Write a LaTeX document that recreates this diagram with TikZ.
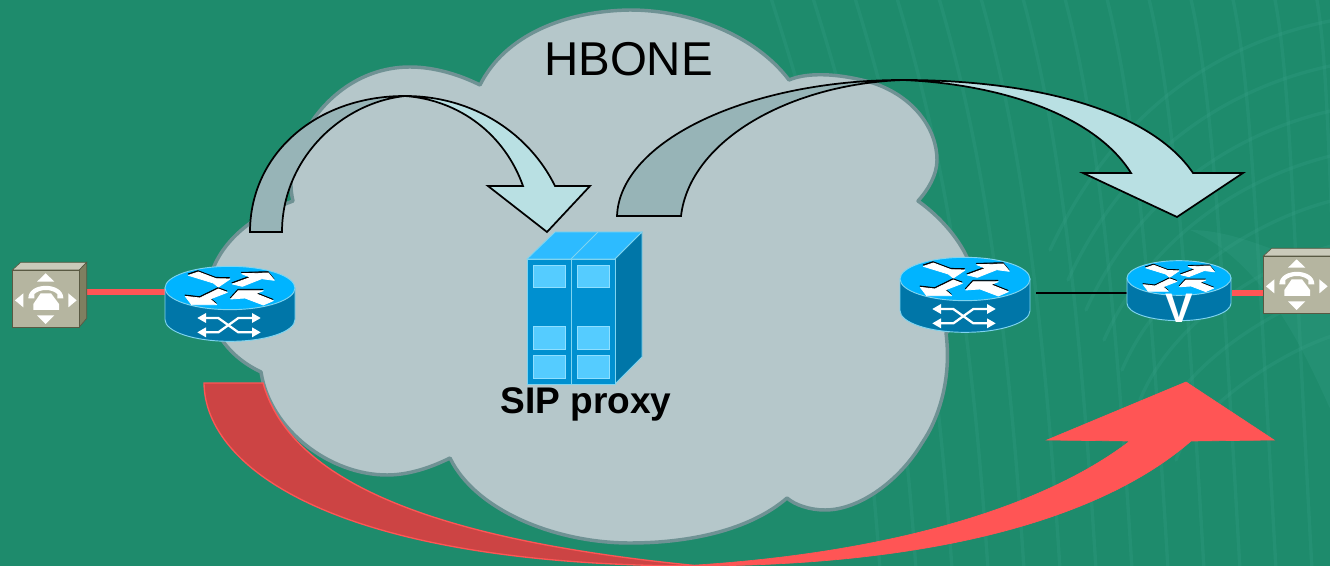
\documentclass[tikz,border=0pt]{standalone}
\usepackage{fontspec}
\setmainfont{Liberation Sans}
\definecolor{bgreen}{HTML}{1E8B6C}
\definecolor{swirl}{HTML}{3FA890}
\definecolor{cloudfill}{HTML}{B5C7CA}
\definecolor{cloudline}{HTML}{6F9294}
\definecolor{tailc}{HTML}{97B4B7}
\definecolor{headc}{HTML}{B9E0E3}
\definecolor{redh}{HTML}{FF5555}
\definecolor{redt}{HTML}{CC4444}
\definecolor{rtop}{HTML}{00B4FF}
\definecolor{rbody}{HTML}{0076A8}
\definecolor{redge}{HTML}{7FD4F0}
\definecolor{sfront}{HTML}{0090D0}
\definecolor{stop}{HTML}{2DBBFF}
\definecolor{swin}{HTML}{55CCFF}
\definecolor{swinl}{HTML}{8FDFFF}
\definecolor{pfront}{HTML}{B5B5A0}
\definecolor{ptop}{HTML}{CACABA}
\definecolor{pside}{HTML}{7F7F60}
\tikzset{
  cloudshape/.style={fill=cloudfill,draw=cloudline,line width=2.6pt,line join=round},
  bluetail/.style={fill=tailc,draw=black,line width=1.3pt,line join=miter},
  bluehead/.style={fill=headc,draw=black,line width=1.3pt,line join=miter},
  redtail/.style={fill=redt,draw=redh,line width=1pt,line join=miter},
  redhead/.style={fill=redh,draw=redh,line width=.5pt,line join=miter},
  redlink/.style={draw=redh,line width=4.4pt},
  blacklink/.style={draw=black,line width=1.5pt},
  swirlline/.style={draw=swirl,opacity=.2,line cap=round},
  rtredge/.style={draw=redge,line width=.7pt},
  winbox/.style={fill=swin,draw=swinl,line width=.6pt},
  hbonetext/.style={font=\fontsize{35.6pt}{36pt}\selectfont,text=black,inner sep=0pt},
  siptext/.style={font=\bfseries\fontsize{27.8pt}{28pt}\selectfont,text=black,inner sep=0pt},
  vtext/.style={font=\bfseries\fontsize{31pt}{31pt}\selectfont,text=white,inner sep=0pt},
}
\newcommand{\rtrarrows}{%
  \foreach \col/\ox/\oy in {black/-1/-4,white/0/0}{
    \filldraw[\col,line width=.6pt,line join=round,shift={(\ox,\oy)}] (-125,-38)--(-95,-48)--(-42,-28)--(0,-27)--(-35,-3)--(-50,-15)--cycle;
    \filldraw[\col,line width=.6pt,line join=round,shift={(\ox,\oy)}] (7,-12)--(62,-32)--(35,-43)--(115,-45)--(133,-23)--(95,-28)--(37,-5)--cycle;
    \filldraw[\col,line width=.6pt,line join=round,shift={(\ox,\oy)}] (-35,3)--(-8,13)--(-60,33)--(-40,50)--(-115,50)--(-134,25)--(-90,30)--cycle;
    \filldraw[\col,line width=.6pt,line join=round,shift={(\ox,\oy)}] (130,38)--(100,51)--(45,30)--(2,33)--(25,8)--(100,8)--(77,17)--cycle;
  }%
}
\newcommand{\rtrbody}{%
  \filldraw[rtredge,fill=rbody] (-195,0) -- (-195,95) arc[start angle=180,end angle=0,x radius=195,y radius=65] -- (195,0) -- cycle;
  \filldraw[rtredge,fill=rtop] (0,0) ellipse[x radius=195,y radius=65];
  \rtrarrows
}
\newcommand{\rtrcross}{%
  \draw[white,line width=1.7pt] (-85,90)--(-35,90)--(25,133)--(85,133);
  \draw[white,line width=1.7pt] (-85,133)--(-35,133)--(25,90)--(85,90);
  \foreach \yy in {90,133}{
    \fill[white] (-98,\yy)--(-72,\yy-15)--(-72,\yy+15)--cycle;
    \fill[white] (92,\yy)--(66,\yy-15)--(66,\yy+15)--cycle;
  }%
}
\newcommand{\phoneicon}{%
  \filldraw[draw=pside!70!black,line width=.5pt,fill=ptop] (37,120)--(62,97)--(260,97)--(238,120)--cycle;
  \filldraw[draw=pside!70!black,line width=.5pt,fill=pside] (238,120)--(260,97)--(260,265)--(238,291)--cycle;
  \filldraw[draw=pside!70!black,line width=.5pt,fill=pfront] (37,120) rectangle (238,291);
  \fill[white] (137,130)--(111,155)--(163,155)--cycle;
  \fill[white] (137,282)--(111,256)--(163,256)--cycle;
  \fill[white] (45,211)--(70,190)--(70,232)--cycle;
  \fill[white] (230,211)--(205,190)--(205,232)--cycle;
  \fill[white] (85,205) .. controls (85,155) and (190,155) .. (190,205)
     -- (172,205) -- (172,192) .. controls (155,176) and (120,176) .. (103,192) -- (103,205) -- cycle;
  \fill[white] (122,190)--(153,190)--(177,222)--(177,240)--(100,240)--(100,222)--cycle;
}
\begin{document}
\begin{tikzpicture}[x=.75pt,y=-.75pt]
\useasboundingbox (0,0) rectangle (1330,566);
\fill[bgreen] (0,0) rectangle (1330,566);
\begin{scope}
\clip (0,0) rectangle (1330,566);
\foreach \i in {0,...,13}{
  \draw[swirlline,line width=2.5pt]
    ({770+\i*42},-5) .. controls ({810+\i*40},{120-\i*4}) and ({860+\i*36},{280-\i*6}) .. ({880+\i*36},570);
}
\foreach \i in {0,...,7}{
  \draw[swirlline,line width=2.5pt]
    (1335,{20+\i*45}) .. controls ({1230+\i*6},{40+\i*45}) and ({1120+\i*10},{100+\i*45}) .. ({1050+\i*18},{250+\i*30});
}
\fill[swirl,opacity=.2] (1190,230) .. controls (1260,260) and (1300,340) .. (1335,420) -- (1335,270) .. controls (1290,260) and (1240,230) .. (1190,230) -- cycle;
\end{scope}
% cloud
\draw[cloudshape] (480,85)
  .. controls (505,35) and (565,11) .. (630,10)
  .. controls (690,10) and (755,35) .. (789,80)
  .. controls (805,73) and (835,72) .. (873,83)
  .. controls (915,97) and (937,130) .. (937,160)
  .. controls (937,175) and (928,190) .. (918,201)
  .. controls (945,220) and (975,255) .. (975,290)
  .. controls (975,305) and (960,322) .. (946,333)
  .. controls (952,380) and (938,420) .. (922,443)
  .. controls (900,480) and (860,510) .. (825,510)
  .. controls (810,510) and (795,505) .. (787,498)
  .. controls (750,530) and (690,543) .. (630,543)
  .. controls (555,543) and (475,510) .. (450,458)
  .. controls (430,468) and (408,475) .. (387,475)
  .. controls (330,475) and (270,430) .. (261,372)
  .. controls (225,355) and (208,325) .. (208,295)
  .. controls (208,260) and (235,222) .. (293,201)
  .. controls (280,150) and (330,67) .. (410,67)
  .. controls (435,67) and (460,75) .. (480,85) -- cycle;
% red arrow
\draw[redtail] (204,383) .. controls (205,470) and (340,566) .. (700,566)
  .. controls (430,540) and (290,480) .. (263,383) -- cycle;
\draw[redhead] (680,566) .. controls (880,555) and (1040,510) .. (1130,441)
  -- (1047,440) -- (1186,382) -- (1274,440) -- (1191,441)
  .. controls (1100,520) and (930,566) .. (690,566) -- cycle;
% first blue arrow
\draw[bluetail] (250,232) .. controls (250,155) and (315,96) .. (405,96)
  .. controls (340,103) and (282,160) .. (282,232) -- cycle;
\draw[bluehead] (405,96) .. controls (475,96) and (530,135) .. (555,186)
  -- (590,186) -- (547,232) -- (488,186) -- (523,186)
  .. controls (505,135) and (460,100) .. (405,96) -- cycle;
% second blue arrow
\draw[bluetail] (617,216) .. controls (620,140) and (750,80) .. (903,80)
  .. controls (790,84) and (690,140) .. (681,216) -- cycle;
\draw[bluehead] (903,80) .. controls (1035,80) and (1150,110) .. (1193,173)
  -- (1243,173) -- (1177,217) -- (1083,173) -- (1131,173)
  .. controls (1095,115) and (1000,84) .. (903,80) -- cycle;
% server
\filldraw[draw=redge,line width=.7pt,fill=stop] (527,259)--(555,232)--(642,232)--(615,259)--cycle;
\draw[redge,line width=.6pt] (571,259)--(598,232);
\filldraw[draw=redge,line width=.7pt,fill=rbody] (615,259)--(642,232)--(642,357)--(615,384)--cycle;
\filldraw[draw=redge,line width=.7pt,fill=sfront] (527,259) rectangle (615,384);
\draw[redge,line width=.7pt] (571,259)--(571,384);
\foreach \cx in {533,577}{
  \foreach \ya/\yb in {265/287,326/349,355/378}{
    \filldraw[winbox] (\cx,\ya) rectangle ({\cx+32},\yb);
  }
}
\node[siptext,anchor=base] (sip) at (586,413) {SIP proxy};
\node[hbonetext,anchor=base] (hbone) at (628.5,76) {HBONE};
\coordinate (phL) at (87,292);
\coordinate (rtL) at (165,292);
\coordinate (rtR) at (1036,293);
\coordinate (rtV) at (1128,293);
\coordinate (rtVr) at (1232,293);
\coordinate (phR) at (1264,293);
\draw[redlink] (phL) -- (rtL);
\draw[blacklink] (rtR) -- (rtV);
\draw[redlink] (rtVr) -- (phR);
\begin{scope}[shift={(0,230)},scale=1/3]\phoneicon\end{scope}
\begin{scope}
\clip (1200,230) rectangle (1330,340);
\begin{scope}[shift={(1251,216)},scale=1/3]\phoneicon\end{scope}
\end{scope}
\begin{scope}[shift={(230,288)},scale=1/3]\rtrbody\rtrcross\end{scope}
\begin{scope}[shift={(965,279)},scale=1/3]\rtrbody\rtrcross\end{scope}
\begin{scope}[shift={(1179,278)},scale=.8/3]\rtrbody\end{scope}
\node[vtext,anchor=base] (vlabel) at (1179,322) {V};
\end{tikzpicture}
\end{document}
